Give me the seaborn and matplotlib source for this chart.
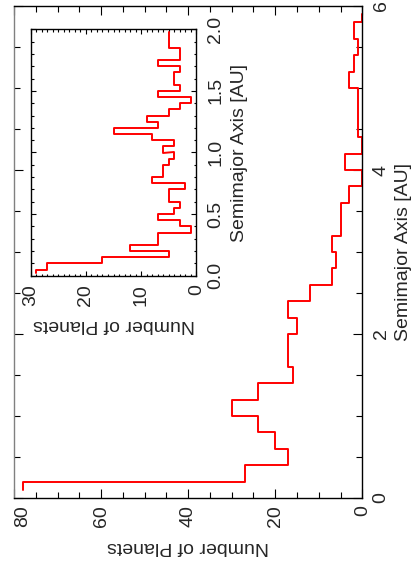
import numpy as np
import pandas as pd
import matplotlib
matplotlib.use("Agg")
import matplotlib.pyplot as plt
import seaborn as sns
from matplotlib.ticker import MultipleLocator, FormatStrFormatter

# ---------------- data ----------------
main_bin_width = 0.2
main_centers = [0.1, 0.3, 0.5, 0.7, 0.9, 1.1, 1.3, 1.5, 1.7, 1.9,
                2.1, 2.3, 2.5, 2.7, 2.9, 3.1, 3.3, 3.5, 3.7, 3.9,
                4.1, 4.3, 4.5, 4.7, 4.9, 5.1, 5.3, 5.5, 5.7, 5.9]
main_counts = [78, 27, 17, 20, 24, 30, 24, 16, 17, 17,
               15, 17, 12, 7, 6, 7, 5, 5, 3, 0,
               4, 0, 1, 1, 1, 3, 2, 1, 2, 0]

inset_bin_width = 0.05
inset_centers = [0.025, 0.075, 0.125, 0.175, 0.225, 0.275, 0.325, 0.375,
                 0.425, 0.475, 0.525, 0.575, 0.625, 0.675, 0.725, 0.775,
                 0.825, 0.875, 0.925, 0.975, 1.025, 1.075, 1.125, 1.175,
                 1.225, 1.275, 1.325, 1.375, 1.425, 1.475, 1.525, 1.575,
                 1.625, 1.675, 1.725, 1.775, 1.825, 1.875, 1.925, 1.975]
inset_counts = [29, 27, 17, 5, 12, 7, 7, 1, 3, 7, 4, 3, 5, 5, 2, 8,
                6, 6, 5, 4, 6, 4, 8, 15, 7, 9, 5, 3, 1, 7, 3, 4,
                4, 3, 7, 3, 3, 5, 5, 5]

xlabel_text = "Number of Planets"
ylabel_text = "Semimajor Axis [AU]"


def step_frame(centers, counts, width):
    """Vertical step outline (steps-mid along the semimajor axis)."""
    xs, ys = [], []
    n = len(centers)
    for i in range(n):
        lo = centers[i] if i == 0 else centers[i] - width / 2
        hi = centers[i] if i == n - 1 else centers[i] + width / 2
        ys += [lo, hi]
        xs += [counts[i], counts[i]]
    return pd.DataFrame({"count": xs, "a": ys})


sns.set_theme(style="ticks")
plt.rcParams["font.family"] = ["Liberation Sans", "DejaVu Sans"]
plt.rcParams["axes.edgecolor"] = "black"
plt.rcParams["axes.linewidth"] = 1.0

FS = 14
W, H = 413, 569
fig = plt.figure(figsize=(W / 100, H / 100), dpi=100)

# ---------------- main axes ----------------
L, R, T, B = 14.0, 362.3, 6.0, 498.0
ax = fig.add_axes([L / W, (H - B) / H, (R - L) / W, (B - T) / H])
sns.lineplot(data=step_frame(main_centers, main_counts, main_bin_width),
             x="count", y="a", sort=False, estimator=None,
             color="#ff0000", linewidth=1.4, ax=ax)
ax.set_xlim(80, 0)
ax.set_ylim(0, 6)
ax.xaxis.set_major_locator(MultipleLocator(20))
ax.xaxis.set_minor_locator(MultipleLocator(5))
ax.yaxis.set_major_locator(MultipleLocator(2))
ax.yaxis.set_minor_locator(MultipleLocator(0.5))
ax.tick_params(which="both", direction="in", top=True, bottom=True,
               left=True, right=True, labelleft=False, labelright=True,
               labelbottom=True, labeltop=False, width=0.8, color="black",
               labelsize=FS)
ax.tick_params(which="major", length=6.5)
ax.tick_params(which="minor", length=4)
ax.tick_params(axis="x", labelrotation=90, pad=5)
ax.tick_params(axis="y", labelrotation=90, pad=7.5)
ax.spines["left"].set_color("0.5")
plt.setp(ax.get_yticklabels(), va="center")
for tk in ax.xaxis.get_major_ticks():
    if abs(tk.get_loc() - 80) < 1e-6:
        tk.label1.set_horizontalalignment("left")

ax.set_xlabel(xlabel_text, fontsize=FS)
ax.xaxis.label.set_rotation(180)
ax.xaxis.label.set_rotation_mode("anchor")
ax.xaxis.label.set_horizontalalignment("center")
ax.xaxis.label.set_verticalalignment("baseline")
ax.xaxis.set_label_coords(0.5, (B - 542.5) / (B - T))

ax.yaxis.set_label_position("right")
ax.set_ylabel(ylabel_text, fontsize=FS)
ax.yaxis.label.set_rotation(90)
ax.yaxis.label.set_rotation_mode("anchor")
ax.yaxis.label.set_horizontalalignment("center")
ax.yaxis.label.set_verticalalignment("baseline")
ax.yaxis.set_label_coords((408 - L) / (R - L), 0.5)

# ---------------- inset axes ----------------
iL, iR, iT, iB = 30.7, 196.3, 29.2, 275.8
axi = fig.add_axes([iL / W, (H - iB) / H, (iR - iL) / W, (iB - iT) / H])
axi.set_facecolor("white")
sns.lineplot(data=step_frame(inset_centers, inset_counts, inset_bin_width),
             x="count", y="a", sort=False, estimator=None,
             color="#ff0000", linewidth=1.4, ax=axi)
axi.set_xlim(30, 0)
axi.set_ylim(0, 2)
axi.xaxis.set_major_locator(MultipleLocator(10))
axi.xaxis.set_minor_locator(MultipleLocator(1))
axi.yaxis.set_major_locator(MultipleLocator(0.5))
axi.yaxis.set_minor_locator(MultipleLocator(0.1))
axi.yaxis.set_major_formatter(FormatStrFormatter("%.1f"))
axi.tick_params(which="both", direction="in", top=True, bottom=True,
                left=True, right=True, labelleft=False, labelright=True,
                labelbottom=True, labeltop=False, width=0.8, color="black",
                labelsize=FS)
axi.tick_params(which="major", length=3.5)
axi.tick_params(which="minor", length=1.8)
axi.tick_params(axis="x", labelrotation=90, pad=6)
axi.tick_params(axis="y", labelrotation=90, pad=8)
plt.setp(axi.get_yticklabels(), va="center")
for tk in axi.xaxis.get_major_ticks():
    if abs(tk.get_loc() - 30) < 1e-6:
        tk.label1.set_horizontalalignment("left")

axi.set_xlabel(xlabel_text, fontsize=FS)
axi.xaxis.label.set_rotation(180)
axi.xaxis.label.set_rotation_mode("anchor")
axi.xaxis.label.set_horizontalalignment("center")
axi.xaxis.label.set_verticalalignment("baseline")
axi.xaxis.set_label_coords(0.5, (iB - 320.5) / (iB - iT))

axi.yaxis.set_label_position("right")
axi.set_ylabel(ylabel_text, fontsize=FS)
axi.yaxis.label.set_rotation(90)
axi.yaxis.label.set_rotation_mode("anchor")
axi.yaxis.label.set_horizontalalignment("center")
axi.yaxis.label.set_verticalalignment("baseline")
axi.yaxis.set_label_coords((243.5 - iL) / (iR - iL), 0.5)

fig.savefig("out.png", dpi=100)
